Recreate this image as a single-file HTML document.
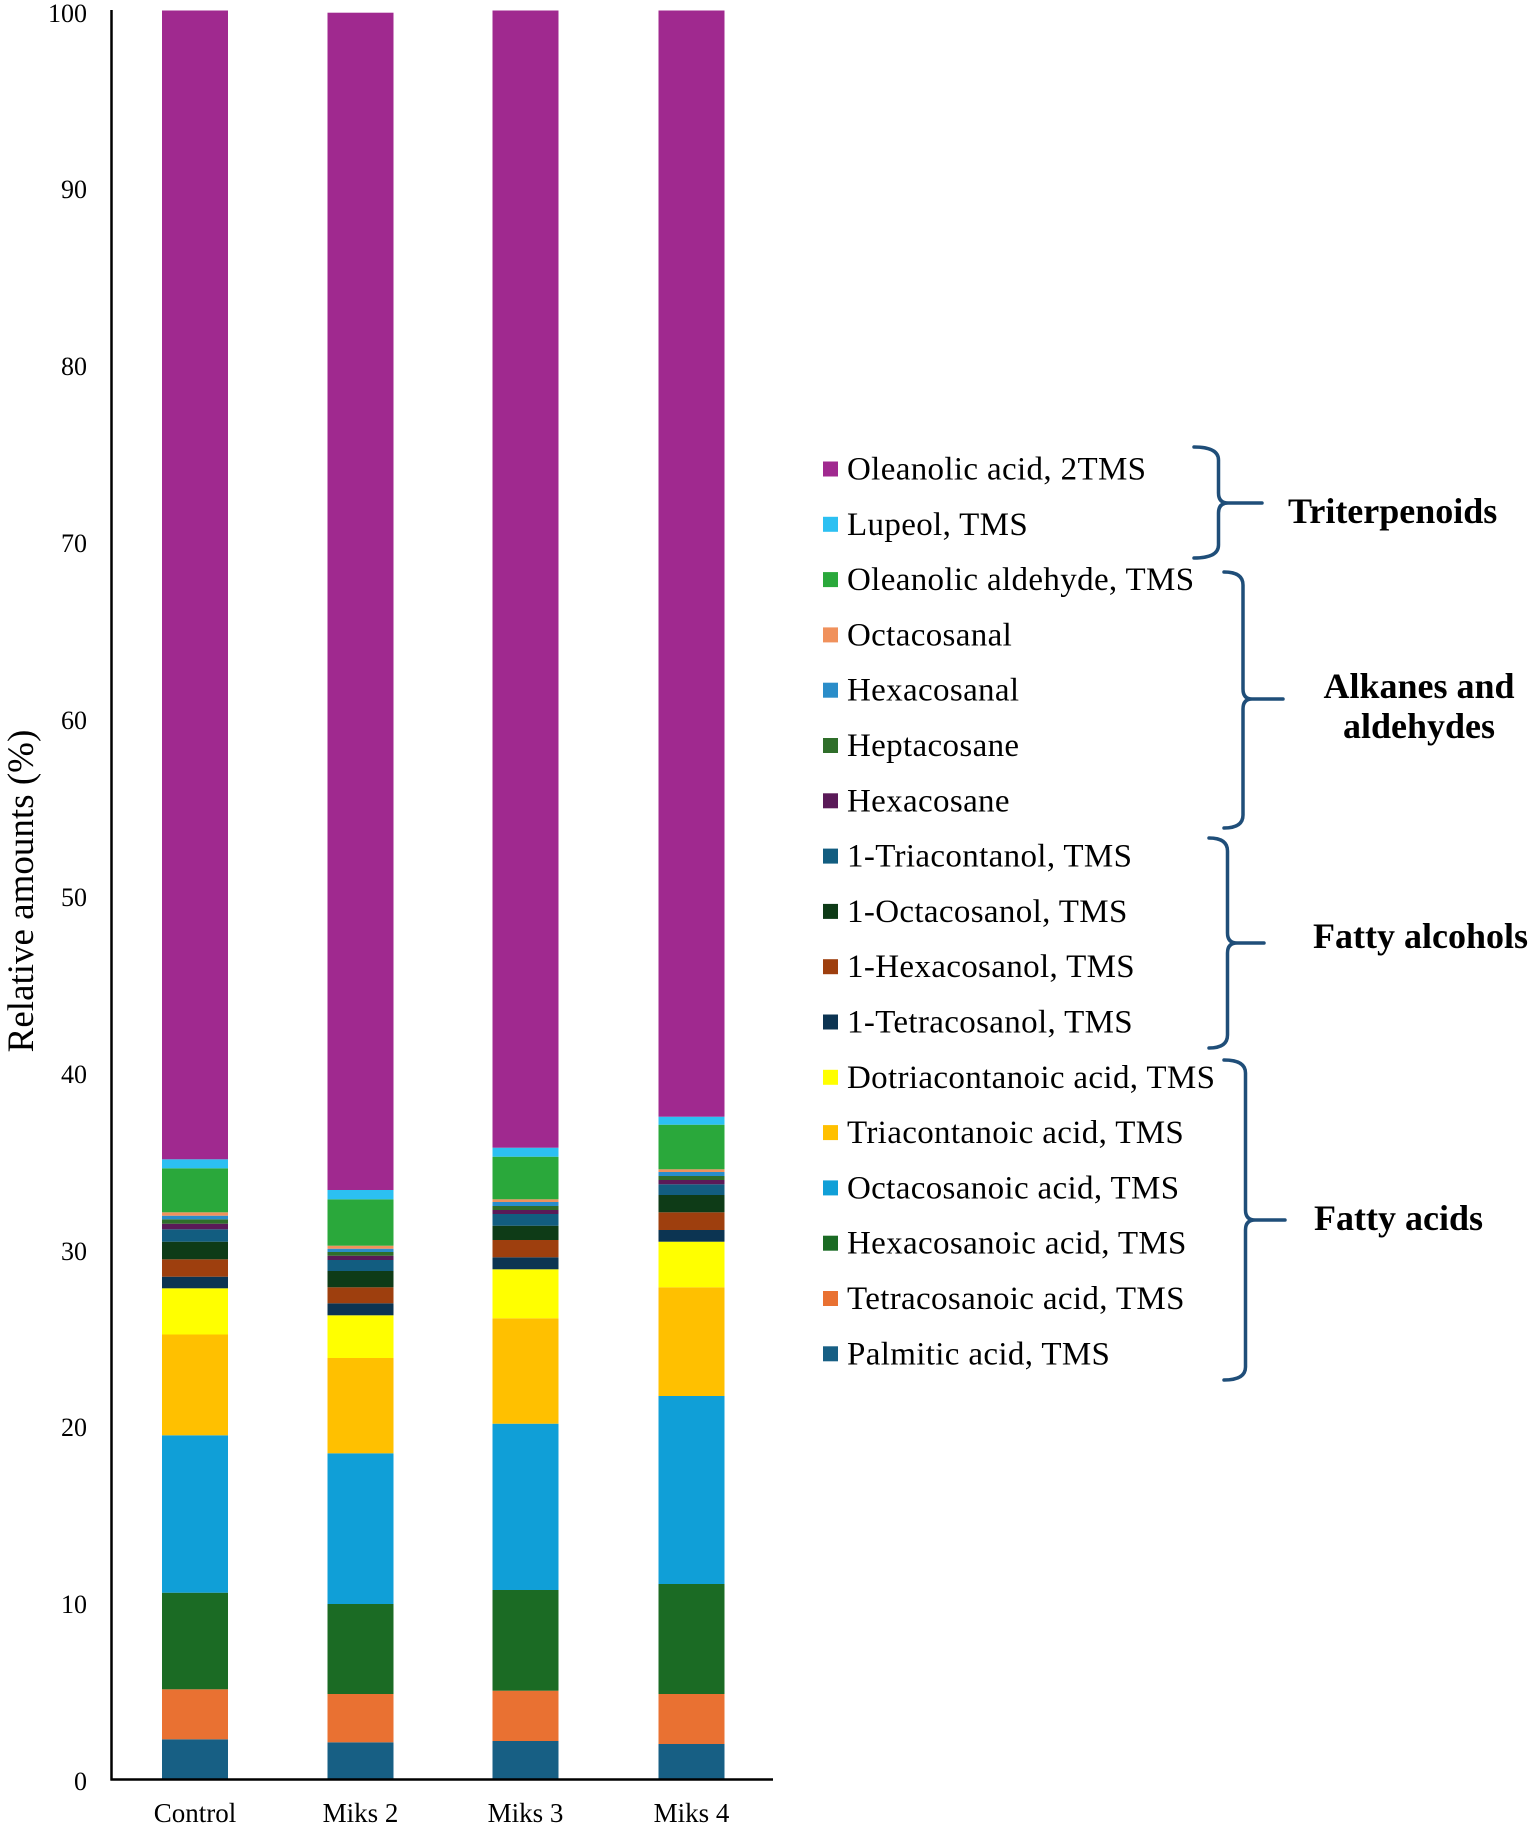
<!DOCTYPE html>
<html>
<head>
<meta charset="utf-8">
<style>
html,body{margin:0;padding:0;background:#fff;}
svg{display:block;}
text{font-family:"Liberation Serif","Times New Roman",serif;fill:#000;}
</style>
</head>
<body>
<svg width="1535" height="1826" viewBox="0 0 1535 1826" xmlns="http://www.w3.org/2000/svg">
<rect x="0" y="0" width="1535" height="1826" fill="#fff"/>

<!-- Control -->
<g>
<rect x="162" y="1739.3" width="66" height="39.7" fill="#175f84"/>
<rect x="162" y="1689.3" width="66" height="50" fill="#e97132"/>
<rect x="162" y="1592.7" width="66" height="96.6" fill="#1b6b24"/>
<rect x="162" y="1435.3" width="66" height="157.4" fill="#109fd7"/>
<rect x="162" y="1334.5" width="66" height="100.8" fill="#ffc000"/>
<rect x="162" y="1288.3" width="66" height="46.2" fill="#ffff00"/>
<rect x="162" y="1276.7" width="66" height="11.6" fill="#0c3452"/>
<rect x="162" y="1259.3" width="66" height="17.4" fill="#9e3f0e"/>
<rect x="162" y="1241.7" width="66" height="17.6" fill="#0e3b17"/>
<rect x="162" y="1229.3" width="66" height="12.4" fill="#125d80"/>
<rect x="162" y="1223.7" width="66" height="5.6" fill="#5a1a58"/>
<rect x="162" y="1219.3" width="66" height="4.4" fill="#2f6e2a"/>
<rect x="162" y="1215.7" width="66" height="3.6" fill="#2a8dc9"/>
<rect x="162" y="1212.3" width="66" height="3.4" fill="#f0915c"/>
<rect x="162" y="1168.3" width="66" height="44" fill="#2aa83b"/>
<rect x="162" y="1159.3" width="66" height="9" fill="#2cc0f2"/>
<rect x="162" y="10.5" width="66" height="1148.8" fill="#a0298f"/>
</g>

<!-- Miks 2 -->
<g>
<rect x="327.5" y="1742.3" width="66" height="36.7" fill="#175f84"/>
<rect x="327.5" y="1694" width="66" height="48.3" fill="#e97132"/>
<rect x="327.5" y="1604" width="66" height="90" fill="#1b6b24"/>
<rect x="327.5" y="1453.3" width="66" height="150.7" fill="#109fd7"/>
<rect x="327.5" y="1358" width="66" height="95.3" fill="#ffc000"/>
<rect x="327.5" y="1315.3" width="66" height="42.7" fill="#ffff00"/>
<rect x="327.5" y="1303.3" width="66" height="12" fill="#0c3452"/>
<rect x="327.5" y="1287.3" width="66" height="16" fill="#9e3f0e"/>
<rect x="327.5" y="1271" width="66" height="16.3" fill="#0e3b17"/>
<rect x="327.5" y="1260" width="66" height="11" fill="#125d80"/>
<rect x="327.5" y="1255.7" width="66" height="4.3" fill="#5a1a58"/>
<rect x="327.5" y="1252" width="66" height="3.7" fill="#2f6e2a"/>
<rect x="327.5" y="1248.7" width="66" height="3.3" fill="#2a8dc9"/>
<rect x="327.5" y="1245.7" width="66" height="3" fill="#f0915c"/>
<rect x="327.5" y="1199.3" width="66" height="46.4" fill="#2aa83b"/>
<rect x="327.5" y="1190" width="66" height="9.3" fill="#2cc0f2"/>
<rect x="327.5" y="12.7" width="66" height="1177.3" fill="#a0298f"/>
</g>

<!-- Miks 3 -->
<g>
<rect x="492.5" y="1741" width="66" height="38" fill="#175f84"/>
<rect x="492.5" y="1690.7" width="66" height="50.3" fill="#e97132"/>
<rect x="492.5" y="1590" width="66" height="100.7" fill="#1b6b24"/>
<rect x="492.5" y="1423.7" width="66" height="166.3" fill="#109fd7"/>
<rect x="492.5" y="1318.3" width="66" height="105.4" fill="#ffc000"/>
<rect x="492.5" y="1269.3" width="66" height="49" fill="#ffff00"/>
<rect x="492.5" y="1257.3" width="66" height="12" fill="#0c3452"/>
<rect x="492.5" y="1240" width="66" height="17.3" fill="#9e3f0e"/>
<rect x="492.5" y="1225.7" width="66" height="14.3" fill="#0e3b17"/>
<rect x="492.5" y="1214" width="66" height="11.7" fill="#125d80"/>
<rect x="492.5" y="1210" width="66" height="4" fill="#5a1a58"/>
<rect x="492.5" y="1206" width="66" height="4" fill="#2f6e2a"/>
<rect x="492.5" y="1202" width="66" height="4" fill="#2a8dc9"/>
<rect x="492.5" y="1199.3" width="66" height="2.7" fill="#f0915c"/>
<rect x="492.5" y="1156.7" width="66" height="42.6" fill="#2aa83b"/>
<rect x="492.5" y="1147.7" width="66" height="9" fill="#2cc0f2"/>
<rect x="492.5" y="10.5" width="66" height="1137.2" fill="#a0298f"/>
</g>

<!-- Miks 4 -->
<g>
<rect x="658.5" y="1744" width="66" height="35" fill="#175f84"/>
<rect x="658.5" y="1694" width="66" height="50" fill="#e97132"/>
<rect x="658.5" y="1584" width="66" height="110" fill="#1b6b24"/>
<rect x="658.5" y="1396" width="66" height="188" fill="#109fd7"/>
<rect x="658.5" y="1287.3" width="66" height="108.7" fill="#ffc000"/>
<rect x="658.5" y="1241.7" width="66" height="45.6" fill="#ffff00"/>
<rect x="658.5" y="1230" width="66" height="11.7" fill="#0c3452"/>
<rect x="658.5" y="1212.3" width="66" height="17.7" fill="#9e3f0e"/>
<rect x="658.5" y="1195" width="66" height="17.3" fill="#0e3b17"/>
<rect x="658.5" y="1184.3" width="66" height="10.7" fill="#125d80"/>
<rect x="658.5" y="1180" width="66" height="4.3" fill="#5a1a58"/>
<rect x="658.5" y="1176" width="66" height="4" fill="#2f6e2a"/>
<rect x="658.5" y="1172" width="66" height="4" fill="#2a8dc9"/>
<rect x="658.5" y="1169.3" width="66" height="2.7" fill="#f0915c"/>
<rect x="658.5" y="1124.7" width="66" height="44.6" fill="#2aa83b"/>
<rect x="658.5" y="1116.7" width="66" height="8" fill="#2cc0f2"/>
<rect x="658.5" y="10.5" width="66" height="1106.2" fill="#a0298f"/>
</g>

<!-- Axes -->
<line x1="111.5" y1="10" x2="111.5" y2="1780.5" stroke="#000" stroke-width="2.5"/>
<line x1="110.5" y1="1779.5" x2="773" y2="1779.5" stroke="#000" stroke-width="2.5"/>

<!-- Y tick labels -->
<g font-size="26" text-anchor="end">
<text x="87" y="22">100</text>
<text x="87" y="198">90</text>
<text x="87" y="375">80</text>
<text x="87" y="552">70</text>
<text x="87" y="729">60</text>
<text x="87" y="906">50</text>
<text x="87" y="1083">40</text>
<text x="87" y="1260">30</text>
<text x="87" y="1436">20</text>
<text x="87" y="1613">10</text>
<text x="87" y="1790">0</text>
</g>

<!-- Y title -->
<text transform="translate(33,891) rotate(-90)" font-size="37" text-anchor="middle">Relative amounts (%)</text>

<!-- X labels -->
<g font-size="27" text-anchor="middle">
<text x="195" y="1822">Control</text>
<text x="360.5" y="1822">Miks 2</text>
<text x="525.5" y="1822">Miks 3</text>
<text x="691.5" y="1822">Miks 4</text>
</g>

<!-- Legend -->
<g>
<rect x="823" y="461.5" width="15" height="15" fill="#a0298f"/>
<rect x="823" y="516.8" width="15" height="15" fill="#2cc0f2"/>
<rect x="823" y="572.1" width="15" height="15" fill="#2aa83b"/>
<rect x="823" y="627.4" width="15" height="15" fill="#f0915c"/>
<rect x="823" y="682.7" width="15" height="15" fill="#2a8dc9"/>
<rect x="823" y="738" width="15" height="15" fill="#2f6e2a"/>
<rect x="823" y="793.3" width="15" height="15" fill="#5a1a58"/>
<rect x="823" y="848.6" width="15" height="15" fill="#125d80"/>
<rect x="823" y="903.9" width="15" height="15" fill="#0e3b17"/>
<rect x="823" y="959.2" width="15" height="15" fill="#9e3f0e"/>
<rect x="823" y="1014.5" width="15" height="15" fill="#0c3452"/>
<rect x="823" y="1069.8" width="15" height="15" fill="#ffff00"/>
<rect x="823" y="1125.1" width="15" height="15" fill="#ffc000"/>
<rect x="823" y="1180.4" width="15" height="15" fill="#109fd7"/>
<rect x="823" y="1235.7" width="15" height="15" fill="#1b6b24"/>
<rect x="823" y="1291" width="15" height="15" fill="#e97132"/>
<rect x="823" y="1346.3" width="15" height="15" fill="#175f84"/>
</g>
<g font-size="33" letter-spacing="0.35">
<text x="847" y="479.5">Oleanolic acid, 2TMS</text>
<text x="847" y="534.8">Lupeol, TMS</text>
<text x="847" y="590.1">Oleanolic aldehyde, TMS</text>
<text x="847" y="645.4">Octacosanal</text>
<text x="847" y="700.7">Hexacosanal</text>
<text x="847" y="756">Heptacosane</text>
<text x="847" y="811.3">Hexacosane</text>
<text x="847" y="866.6">1-Triacontanol, TMS</text>
<text x="847" y="921.9">1-Octacosanol, TMS</text>
<text x="847" y="977.2">1-Hexacosanol, TMS</text>
<text x="847" y="1032.5">1-Tetracosanol, TMS</text>
<text x="847" y="1087.8">Dotriacontanoic acid, TMS</text>
<text x="847" y="1143.1">Triacontanoic acid, TMS</text>
<text x="847" y="1198.4">Octacosanoic acid, TMS</text>
<text x="847" y="1253.7">Hexacosanoic acid, TMS</text>
<text x="847" y="1309">Tetracosanoic acid, TMS</text>
<text x="847" y="1364.3">Palmitic acid, TMS</text>
</g>

<!-- Brackets -->
<g fill="none" stroke="#1f4e79" stroke-width="3.5" stroke-linecap="round">
<path d="M1194,447 Q1218.5,447 1218.5,460 L1218.5,493 Q1218.5,503 1228,503 L1262,503 M1228,503 Q1218.5,503 1218.5,513 L1218.5,545 Q1218.5,558 1194,558"/>
<path d="M1224,572 Q1243,572 1243,585 L1243,689 Q1243,699 1252,699 L1283,699 M1252,699 Q1243,699 1243,709 L1243,815 Q1243,828 1224,828"/>
<path d="M1209,838 Q1227.5,838 1227.5,851 L1227.5,933 Q1227.5,943 1237,943 L1264,943 M1237,943 Q1227.5,943 1227.5,953 L1227.5,1035 Q1227.5,1048 1209,1048"/>
<path d="M1224,1060 Q1245.5,1060 1245.5,1073 L1245.5,1210 Q1245.5,1220 1255,1220 L1285,1220 M1255,1220 Q1245.5,1220 1245.5,1230 L1245.5,1367 Q1245.5,1380 1224,1380"/>
</g>

<!-- Group labels -->
<g font-size="36" font-weight="bold">
<text x="1288" y="523">Triterpenoids</text>
<text x="1419" y="698" text-anchor="middle">Alkanes and</text>
<text x="1419" y="738" text-anchor="middle">aldehydes</text>
<text x="1313" y="948">Fatty alcohols</text>
<text x="1314" y="1230">Fatty acids</text>
</g>
</svg>
</body>
</html>
